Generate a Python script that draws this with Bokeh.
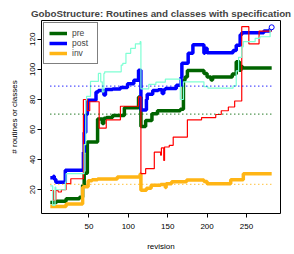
from bokeh.plotting import figure
from bokeh.models import Range1d, FixedTicker, Legend, LegendItem
from bokeh.embed import file_html
from bokeh.resources import INLINE

# ---- data ----
pre_rev = [1, 9, 21, 38, 42, 44, 48, 61, 67, 69, 72, 80, 95, 113, 116, 122, 130, 137, 166, 170, 172, 175, 196, 200, 205, 207, 232, 237, 241, 243, 245, 282]
pre_val = [11.5, 12.3, 14, 15, 23, 31, 51.7, 67, 64, 67.5, 68, 69.3, 74.5, 81.7, 62, 66, 70.5, 72.5, 73.5, 92.8, 95, 99.3, 97.3, 95, 93, 95, 97, 105, 99.5, 102, 101, 101]

post_rev = [1, 5, 6, 8, 20, 43, 44, 46, 48, 59, 62, 69, 71, 80, 90, 99, 107, 113, 116, 123, 124, 131, 138, 143, 145, 147, 161, 167, 168, 176, 182, 196, 197, 200, 233, 237, 242, 244, 272, 280, 282]
post_val = [28, 29, 27, 25, 33, 45, 58, 70, 79.5, 85, 86, 83, 86.6, 87, 88, 90.5, 92.8, 99.5, 73, 80, 83.5, 86, 86.5, 84, 86.5, 87.3, 89.5, 95, 104, 110.7, 116.3, 110.7, 114, 111, 112.5, 116, 123, 124.4, 125.5, 127, 128]

inv_rev = [1, 21, 42, 43, 49, 54, 61, 86, 115, 116, 123, 129, 141, 147, 148, 155, 174, 196, 200, 230, 246, 282]
inv_val = [8.9, 10.5, 21.7, 22, 26, 26.7, 27.2, 28.5, 30.5, 19.6, 21, 23, 23.5, 21.5, 24, 25.3, 26.5, 25.5, 24, 26.7, 30.7, 30.7]

red_rev = [1, 5, 8, 11, 15, 21, 27, 43, 48, 51, 63, 72, 90, 113, 116, 122, 133, 141, 142, 145, 146, 152, 157, 175, 193, 211, 218, 227, 235, 244, 253, 266, 282]
red_val = [19.5, 13, 19.5, 18.5, 20, 24, 27.3, 80, 72.5, 78.5, 61, 66.5, 75.5, 81.7, 30.7, 34, 45, 43, 47.8, 39.5, 48.4, 49.5, 55, 66.5, 68, 70, 72.5, 75, 79, 128.4, 117, 125.5, 125.5]

aqua_rev = [1, 4, 7, 8, 20, 21, 44, 46, 47, 52, 62, 65, 67, 69, 70, 91, 93, 97, 103, 109, 115, 116, 126, 135, 147, 166, 170, 196, 201, 233, 237, 240, 244, 246, 261, 267, 280, 282]
aqua_val = [22.5, 9.6, 21.7, 20, 25, 30.7, 50, 79.5, 82, 92, 97.3, 91.7, 85, 97.3, 98.4, 102.9, 104, 110.7, 114, 117, 118.4, 87, 90, 91.5, 93.5, 80, 91.7, 88.5, 87.5, 89, 99, 108, 115, 118.4, 120.6, 121.7, 127, 127]

mean_names = ["pre", "post", "inv"]
mean_vals = [70.2, 88.9, 23.5]

x_ticks = [50, 100, 150, 200, 250]
y_ticks = [20, 40, 60, 80, 100, 120]

FONT = "Liberation Sans"
GREEN = "#006400"
BLUE = "#0000FF"
ORANGE = "#FFB515"
COLORS = [GREEN, BLUE, ORANGE]

p = figure(width=294, height=254, output_backend="svg", toolbar_location=None,
           x_range=Range1d(-10.2, 293.2), y_range=Range1d(4.2, 132.5),
           min_border_left=41, min_border_right=14, min_border_top=20, min_border_bottom=41,
           title="GoboStructure: Routines and classes with specification")
p.title.align = "center"
p.title.text_font = FONT
p.title.text_font_size = "9.8px"
p.title.text_font_style = "bold"
p.title.standoff = 4
p.title.offset = 0

p.grid.visible = False
p.outline_line_color = "black"
p.outline_line_width = 1
p.background_fill_color = "white"
p.border_fill_color = "white"

for ax in (p.xaxis[0], p.yaxis[0]):
    ax.axis_line_color = None
    ax.major_tick_out = 4
    ax.major_tick_in = 0
    ax.minor_tick_line_color = None
    ax.major_tick_line_color = "black"
    ax.major_label_text_font = FONT
    ax.major_label_text_font_size = "8px"
    ax.major_label_text_color = "black"
    ax.axis_label_text_font = FONT
    ax.axis_label_text_font_size = "8px"
    ax.axis_label_text_font_style = "normal"
    ax.axis_label_text_color = "black"

p.xaxis.major_label_standoff = 6
p.xaxis.axis_label_standoff = 10
p.yaxis.major_label_standoff = 2
p.yaxis.axis_label_standoff = 9

p.xaxis.ticker = FixedTicker(ticks=x_ticks)
p.yaxis.ticker = FixedTicker(ticks=y_ticks)
p.yaxis.major_label_orientation = "vertical"
p.xaxis.axis_label = "revision"
p.yaxis.axis_label = "# routines or classes"

r_pre = p.step(pre_rev, pre_val, mode="after", line_color=GREEN, line_width=3.5)
r_post = p.step(post_rev, post_val, mode="after", line_color=BLUE, line_width=3.5)
r_inv = p.step(inv_rev, inv_val, mode="after", line_color=ORANGE, line_width=3.5)
p.step(red_rev, red_val, mode="after", line_color="red", line_width=1.2)
p.step(aqua_rev, aqua_val, mode="after", line_color="#7FFFD4", line_width=1.2)

x0 = min(pre_rev)
x1 = max(pre_rev)
for val, col in zip(mean_vals, COLORS):
    p.segment(x0=[x0], y0=[val], x1=[x1], y1=[val], line_color=col,
              line_width=1.2, line_dash="1 3")

p.scatter([post_rev[-1]], [post_val[-1]], marker="circle", size=5,
          line_color=BLUE, fill_color="white", line_width=1)

# legend kept inside the frame, in its empty top-left corner
legend = Legend(items=[LegendItem(label=n, renderers=[r]) for n, r in zip(mean_names, [r_pre, r_post, r_inv])],
                location="top_left")
legend.border_line_color = "black"
legend.border_line_width = 1
legend.background_fill_color = "white"
legend.background_fill_alpha = 1
legend.label_text_font = FONT
legend.label_text_font_size = "8.5px"
legend.label_height = 10
legend.glyph_height = 10
legend.glyph_width = 18
legend.label_standoff = 5
legend.padding = 5
legend.spacing = 0
legend.margin = 2
p.add_layout(legend)

open("out.html", "w").write(file_html(p, INLINE))
